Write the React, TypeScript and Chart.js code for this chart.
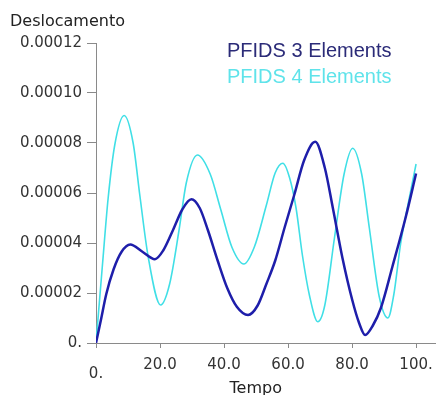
import React, { useEffect, useRef } from "react";
import { Chart, registerables } from "chart.js";

Chart.register(...registerables);

// PFIDS 3 Elements
const tempo3 = [0, 1.5, 3.2, 5.5, 8, 10.7, 14.5, 18.4, 21, 24, 27, 29.8, 32.4, 35, 38, 41, 44, 47.5, 50.5, 53.2, 56, 59, 62, 65, 68.5, 71.5, 74, 77, 80, 82.2, 84.1, 86.5, 89, 92.6, 96.8, 100];
const desloc3 = [0, 0.9e-5, 1.95e-5, 2.95e-5, 3.65e-5, 3.94e-5, 3.65e-5, 3.35e-5, 3.7e-5, 4.5e-5, 5.35e-5, 5.75e-5, 5.4e-5, 4.5e-5, 3.3e-5, 2.2e-5, 1.45e-5, 1.12e-5, 1.5e-5, 2.35e-5, 3.3e-5, 4.65e-5, 5.95e-5, 7.3e-5, 8.05e-5, 7.0e-5, 5.4e-5, 3.4e-5, 1.75e-5, 0.8e-5, 0.32e-5, 0.7e-5, 1.4e-5, 3.05e-5, 5.05e-5, 6.78e-5];

// PFIDS 4 Elements
const tempo4 = [0, 2, 3.8, 5.9, 8.8, 11.6, 13.7, 16.3, 20.2, 23, 26, 28.2, 31.7, 35.7, 39, 42.5, 46.2, 49.5, 53.2, 56, 58.4, 60.5, 62.5, 64.5, 66.7, 69.3, 71.5, 74.5, 77.5, 80.2, 83, 85.4, 88.5, 91.2, 93, 95.2, 97.5, 100];
const desloc4 = [0, 3.1e-5, 5.8e-5, 7.95e-5, 9.1e-5, 8.0e-5, 5.9e-5, 3.45e-5, 1.52e-5, 2.36e-5, 4.56e-5, 6.4e-5, 7.52e-5, 6.75e-5, 5.33e-5, 3.82e-5, 3.16e-5, 3.85e-5, 5.5e-5, 6.81e-5, 7.19e-5, 6.6e-5, 5.4e-5, 3.5e-5, 1.9e-5, 0.85e-5, 1.52e-5, 4.2e-5, 6.75e-5, 7.79e-5, 6.76e-5, 4.6e-5, 1.85e-5, 1.0e-5, 1.9e-5, 3.99e-5, 5.55e-5, 7.16e-5];

const seriesLabels = ["PFIDS 3 Elements", "PFIDS 4 Elements"];
const xTicks = [0, 20, 40, 60, 80, 100];
const xTickLabels = ["0.", "20.0", "40.0", "60.0", "80.0", "100."];
const yTicks = [0, 0.00002, 0.00004, 0.00006, 0.00008, 0.0001, 0.00012];
const yTickLabels = ["0.", "0.00002", "0.00004", "0.00006", "0.00008", "0.00010", "0.00012"];

const lineColors = ["#1e1eaa", "#40dfe6"];
const legendColors = ["#2b2b78", "#5fe3ea"];

const legendPlugin = {
  id: "innerLegend",
  afterDraw(chart: any) {
    const { ctx, chartArea } = chart;
    ctx.save();
    ctx.font = "20px 'Liberation Sans', Arial, sans-serif";
    ctx.textAlign = "left";
    ctx.textBaseline = "middle";
    chart.data.datasets.forEach((ds: any, i: number) => {
      ctx.fillStyle = legendColors[i];
      ctx.fillText(ds.label, chartArea.left + 131, chartArea.top + 8 + i * 26);
    });
    ctx.restore();
  },
};

export default function App() {
  const ref = useRef<HTMLCanvasElement | null>(null);
  useEffect(() => {
    if (!ref.current) return;
    Chart.defaults.font.family = "'DejaVu Sans', sans-serif";
    const chart = new Chart(ref.current, {
      type: "line",
      data: {
        datasets: [
          {
            label: seriesLabels[0],
            data: tempo3.map((t, i) => ({ x: t, y: desloc3[i] })),
            borderColor: lineColors[0],
            borderWidth: 2.5,
            pointRadius: 0,
            cubicInterpolationMode: "monotone",
            fill: false,
          },
          {
            label: seriesLabels[1],
            data: tempo4.map((t, i) => ({ x: t, y: desloc4[i] })),
            borderColor: lineColors[1],
            borderWidth: 1.6,
            pointRadius: 0,
            cubicInterpolationMode: "monotone",
            fill: false,
          },
        ],
      },
      options: {
        responsive: false,
        animation: false,
        layout: { padding: { left: 10, right: 4, top: 0, bottom: 0 } },
        plugins: {
          legend: { display: false },
          tooltip: { enabled: false },
          title: {
            display: true,
            text: "Deslocamento",
            align: "start",
            color: "#222",
            font: { size: 16, weight: "normal", lineHeight: 1.2 },
            padding: { top: 12, bottom: 11.8 },
          },
        },
        scales: {
          x: {
            type: "linear",
            min: 0,
            max: 106.2,
            afterBuildTicks: (scale: any) => {
              scale.ticks = xTicks.map((v) => ({ value: v }));
            },
            afterFit: (scale: any) => {
              scale.height = 52;
            },
            ticks: {
              callback: (_v: any, i: number) => xTickLabels[i],
              color: "#333",
              padding: 8,
              maxRotation: 0,
              autoSkip: false,
              font: (c: any) => ({ size: 15, lineHeight: c.index === 0 ? "36px" : "18px" }),
            },
            grid: { drawOnChartArea: false, drawTicks: true, tickLength: 5, color: "#8a8a8a" },
            border: { display: true, color: "#8a8a8a", width: 1 },
            title: {
              display: true,
              text: "Tempo    ",
              color: "#222",
              font: { size: 16, lineHeight: 0.75 },
              padding: { top: 0, bottom: 0 },
            },
          },
          y: {
            type: "linear",
            min: 0,
            max: 0.00012,
            afterBuildTicks: (scale: any) => {
              scale.ticks = yTicks.map((v) => ({ value: v }));
            },
            afterFit: (scale: any) => {
              scale.width = 86;
            },
            ticks: {
              callback: (_v: any, i: number) => yTickLabels[i],
              color: "#333",
              padding: 5,
              autoSkip: false,
              font: { size: 15 },
            },
            grid: { drawOnChartArea: false, drawTicks: true, tickLength: 9, color: "#8a8a8a" },
            border: { display: true, color: "#8a8a8a", width: 1 },
          },
        },
      },
      plugins: [legendPlugin],
    } as any);
    return () => chart.destroy();
  }, []);
  return (
    <div style={{ position: "fixed", left: 0, top: 0, width: 441, height: 395, background: "#fff" }}>
      <canvas ref={ref} width={441} height={395} style={{ display: "block" }} />
    </div>
  );
}
